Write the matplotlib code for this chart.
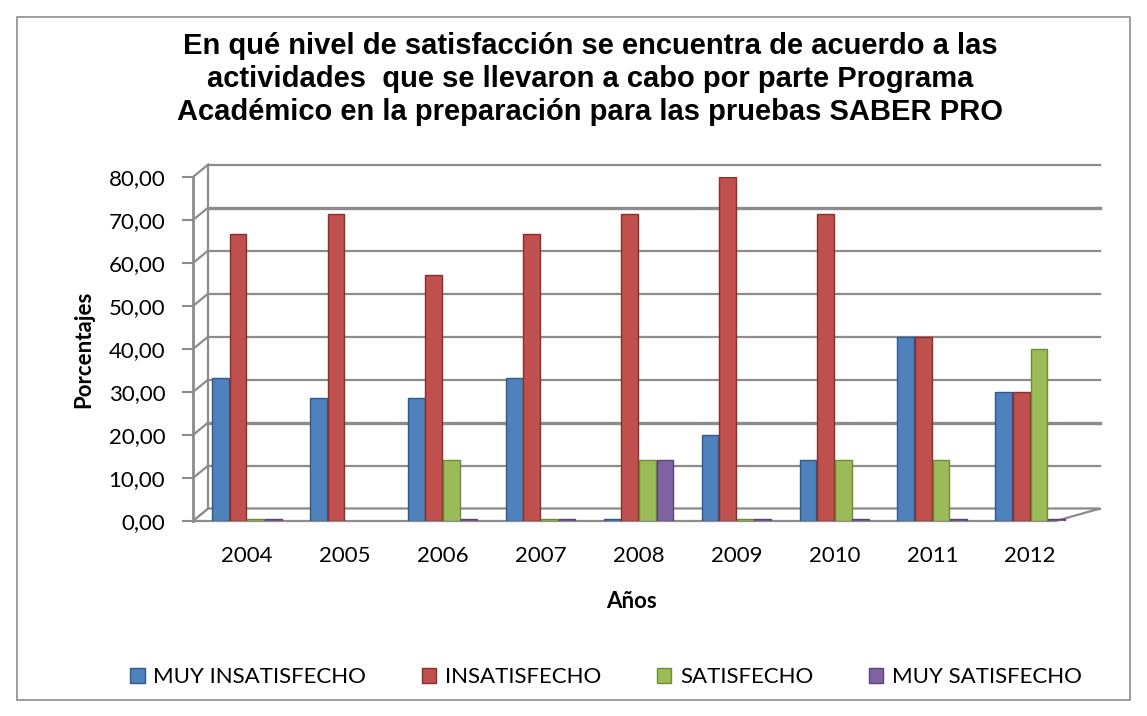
import matplotlib
matplotlib.use("Agg")
import matplotlib.pyplot as plt
import matplotlib.transforms as mtransforms
from matplotlib.patches import Rectangle, Polygon
import numpy as np

years = ["2004", "2005", "2006", "2007", "2008", "2009", "2010", "2011", "2012"]
series_names = ["MUY INSATISFECHO", "INSATISFECHO", "SATISFECHO", "MUY SATISFECHO"]
muy_insatisfecho = [33.33, 28.57, 28.57, 33.33, 0.0, 20.00, 14.29, 42.86, 30.00]
insatisfecho = [66.67, 71.43, 57.14, 66.67, 71.43, 80.00, 71.43, 42.86, 30.00]
satisfecho = [0.0, np.nan, 14.29, 0.0, 14.29, 0.0, 14.29, 14.29, 40.00]
muy_satisfecho = [0.0, np.nan, 0.0, 0.0, 14.29, 0.0, 0.0, 0.0, 0.0]
colors = ["#4F81BD", "#C0504D", "#9BBB59", "#8064A2"]
edges = ["#2C5A8F", "#8C2D2A", "#6E8C36", "#5A4378"]
yticks = [0, 10, 20, 30, 40, 50, 60, 70, 80]
title = ("En qué nivel de satisfacción se encuentra de acuerdo a las\n"
         "actividades  que se llevaron a cabo por parte Programa\n"
         "Académico en la preparación para las pruebas SABER PRO")

W, H = 1147, 716
fig = plt.figure(figsize=(W / 100, H / 100), dpi=100)
fig.patch.set_facecolor("white")

# outer border
fig.add_artist(Rectangle((17 / W, 1 - 700 / H), (1130 - 17) / W, (700 - 17) / H,
                         transform=fig.transFigure, fill=False, edgecolor="#8C8C8C", lw=1.2))

ax = fig.add_axes([193 / W, 1 - 521 / H, (1085 - 193) / W, (521 - 177) / H])
ax.set_xlim(-0.55, 8.56)
ax.set_ylim(0, 80)
for s in ["top", "right", "bottom"]:
    ax.spines[s].set_visible(False)
ax.spines["left"].set_color("#8C8C8C")
ax.spines["left"].set_linewidth(2)
ax.set_facecolor("none")

dx, dy = 11 / 72, 9 / 72  # back wall offset in inches
back = ax.transData + mtransforms.ScaledTranslation(dx, dy, fig.dpi_scale_trans)
xmin, xmax = ax.get_xlim()
for v in yticks:
    lw = 2.4 if v in (20, 70) else 1.6
    ax.plot([xmin, xmax], [v, v], transform=back, color="#8C8C8C", lw=lw, zorder=0, clip_on=False)
    p0 = ax.transData.transform((xmin, v))
    p1 = back.transform((xmin, v))
    ax.plot([p0[0], p1[0]], [p0[1], p1[1]], transform=None, color="#8C8C8C", lw=1.6,
            zorder=0, clip_on=False)
ax.plot([xmin, xmin], [0, 80], transform=back, color="#8C8C8C", lw=1.6, zorder=0, clip_on=False)
# floor
f0 = ax.transData.transform((xmin, 0))
f1 = ax.transData.transform((xmax - 0.3, 0))
f2 = back.transform((xmax, 0))
f3 = back.transform((xmin, 0))
ax.add_patch(Polygon([f0, f1, f2, f3], closed=True, transform=None, facecolor="white",
                     edgecolor="#8C8C8C", lw=1.6, zorder=0.5, clip_on=False))

x = np.arange(len(years))
bw = 0.18
data = [muy_insatisfecho, insatisfecho, satisfecho, muy_satisfecho]
for i, (vals, c, e, name) in enumerate(zip(data, colors, edges, series_names)):
    pos = x + (i - 1.5) * bw
    vv = np.array(vals, dtype=float)
    hh = np.where(vv == 0, 0.5, vv)
    ax.bar(pos, hh, width=bw * 0.95, color=c, edgecolor=e, lw=1.0, zorder=3, label=name)

ax.set_xticks(x)
ax.set_xticklabels(years)
ax.set_yticks(yticks)
ax.set_yticklabels([f"{v:.2f}".replace(".", ",") for v in yticks])
ax.tick_params(axis="x", length=0, pad=18, labelsize=16)
ax.tick_params(axis="y", length=8, width=1.5, color="#8C8C8C", labelsize=16, pad=12)
for lab in ax.get_xticklabels() + ax.get_yticklabels():
    lab.set_fontfamily("Lato")

ax.set_ylabel("Porcentajes", fontsize=16, fontweight="bold", fontfamily="Lato")
ax.yaxis.set_label_coords((84 - 193) / (1085 - 193), 0.5)
ax.set_xlabel("Años", fontsize=16, fontweight="bold", fontfamily="Lato")
ax.xaxis.set_label_coords((632 - 193) / (1085 - 193), -(601 - 521) / (521 - 177))
ax.xaxis.label.set_va("center")
ax.yaxis.label.set_va("center")

fig.text(590 / W, 1 - 79 / H, title, ha="center", va="center", fontsize=21,
         fontweight="bold", fontfamily="Liberation Sans", linespacing=1.25)

leg = fig.legend(loc="center", bbox_to_anchor=(606 / W, 1 - 677 / H), ncol=4, frameon=False,
                 prop={"family": "Lato", "size": 16}, handlelength=0.64, handleheight=0.64,
                 columnspacing=2.5, handletextpad=0.4)

fig.savefig("out.png", dpi=100, facecolor="white")
